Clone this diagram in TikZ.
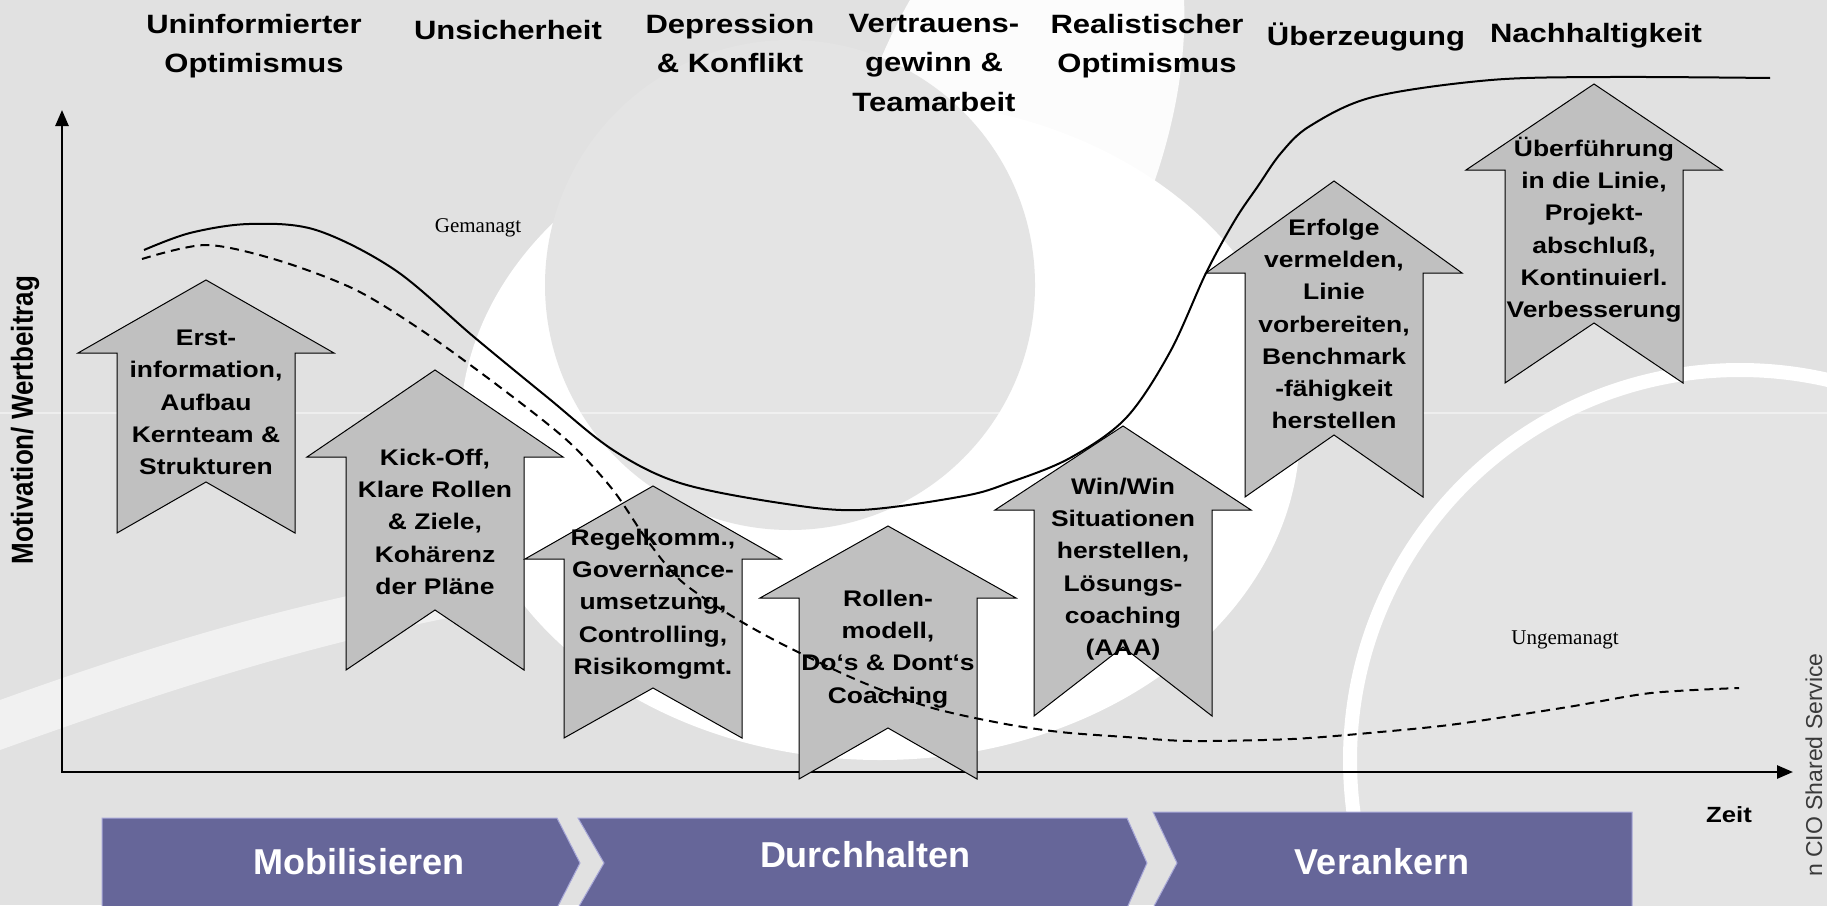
\documentclass[tikz,border=0pt]{standalone}
\usepackage{fontspec}
\setmainfont{Liberation Sans}
\newfontfamily\chartfont[FakeStretch=1.17]{Liberation Sans}
\newfontfamily\seriffont{Liberation Serif}
\usetikzlibrary{arrows.meta}

\definecolor{bggray}{HTML}{E1E1E1}
\definecolor{diskgray}{HTML}{E4E4E4}
\definecolor{arrowgray}{HTML}{C0C0C0}
\definecolor{phase}{HTML}{666699}
\definecolor{phaseedge}{HTML}{A8A8D8}
\definecolor{credit}{HTML}{3A3A3A}

\tikzset{
  arrowbox/.style={fill=arrowgray, draw=black, line width=1pt, line join=miter},
  arrowtext/.style={align=center, inner sep=0pt, anchor=north,
    font=\chartfont\bfseries\fontsize{22.6}{32.2}\selectfont,
    execute at begin node=\rule{0pt}{21pt}},
  toplabel/.style={align=center, inner sep=0pt, anchor=north,
    font=\chartfont\bfseries\fontsize{26.5}{39.5}\selectfont,
    execute at begin node=\rule{0pt}{25pt}},
  curvelabel/.style={inner sep=0pt, font=\seriffont\fontsize{21}{24}\selectfont},
  phasebox/.style={fill=phase, draw=phaseedge, line width=1pt},
  phaselabel/.style={inner sep=0pt, anchor=base, text=white,
    font=\bfseries\fontsize{36}{40}\selectfont},
  axis/.style={line width=2.6pt, {Triangle[length=16pt,width=13pt]}-{Triangle[length=16pt,width=13pt]}},
  managed/.style={line width=2pt},
  unmanaged/.style={line width=2pt, dash pattern=on 9pt off 6pt},
}

% block arrow: name, centre x, tip y, shoulder y, bottom y, notch depth, text top y, text
\newcommand{\blockarrow}[8]{%
  \draw[arrowbox] (#2,#3) -- (#2+128,#4) -- (#2+89,#4) -- (#2+89,#5)
    -- (#2,#5-#6) -- (#2-89,#5) -- (#2-89,#4) -- (#2-128,#4) -- cycle;
  \node[arrowtext] (#1) at (#2,#7) {#8};
}

\begin{document}
\begin{tikzpicture}[x=1pt, y=-1pt]
\useasboundingbox (0,0) rectangle (1827,905);

% background swirl
\fill[bggray] (0,0) rectangle (1827,905);
\fill[white, opacity=0.55] (0,700) .. controls (250,610) and (450,560) .. (760,540)
  -- (760,575) .. controls (450,600) and (250,660) .. (0,750) -- cycle;
\fill[white] (880,430) ellipse [x radius=420, y radius=330];
\fill[white, opacity=0.9, rotate around={-20:(1010,140)}] (1010,140) ellipse [x radius=150, y radius=300];
\fill[diskgray] (790,285) circle [radius=245];
\draw[white, line width=14pt, fill=diskgray] (1740,760) circle [radius=390];
\draw[white, opacity=0.45, line width=1.5pt] (0,413) -- (1827,413);

% axes
\coordinate (ytip) at (62,110);
\coordinate (origin) at (62,772);
\coordinate (xtip) at (1793,772);
\draw[axis] (ytip) -- (origin) -- (xtip);

% measures
\blockarrow{a1}{206}{280}{353}{533}{51}{330}{Erst-\\information,\\Aufbau\\Kernteam \&\\Strukturen}
\blockarrow{a2}{435}{370}{457}{670}{60}{449}{Kick-Off,\\Klare Rollen\\\& Ziele,\\Kohärenz\\der Pläne}
\blockarrow{a3}{653}{486}{559}{738}{50}{529}{Regelkomm.,\\Governance-\\umsetzung,\\Controlling,\\Risikomgmt.}
\blockarrow{a4}{888}{526}{598}{779}{51}{590}{Rollen-\\modell,\\Do‘s \& Dont‘s\\Coaching}
\blockarrow{a5}{1123}{426}{510}{716}{69}{478}{Win/Win\\Situationen\\herstellen,\\Lösungs-\\coaching\\(AAA)}
\blockarrow{a6}{1334}{181}{273}{497}{62}{219}{Erfolge\\vermelden,\\Linie\\vorbereiten,\\Benchmark\\-fähigkeit\\herstellen}
\blockarrow{a7}{1594}{84}{170}{383}{60}{137}{Überführung\\in die Linie,\\Projekt-\\abschluß,\\Kontinuierl.\\Verbesserung}

% managed and unmanaged course
\draw[managed] plot[smooth, tension=0.55] coordinates {
  (144,250) (190,233) (249,224) (316,230) (395,270) (474,337) (547,397)
  (613,450) (680,483) (780,503) (860,510) (964,496) (1011,482) (1070,458)
  (1126,418) (1170,352) (1206,273) (1235,220) (1258,186) (1281,153)
  (1310,126) (1373,97) (1491,80) (1610,77) (1770,78)};
\draw[unmanaged] plot[smooth, tension=0.5] coordinates {
  (142,259) (206,245) (277,260) (356,290) (430,336) (513,397) (570,443)
  (613,490) (647,540) (680,580) (727,613) (780,643) (857,680) (929,707)
  (1000,723) (1060,732) (1126,737) (1190,741) (1292,739) (1380,732)
  (1457,724) (1568,707) (1651,693) (1739,688)};
\node[curvelabel] (managedlabel) at (478,228) {Gemanagt};
\node[curvelabel] (unmanagedlabel) at (1565,640) {Ungemanagt};

% phase headings
\node[toplabel] (h1) at (254,14) {Uninformierter\\Optimismus};
\node[toplabel] (h2) at (508,14) {Unsicherheit};
\node[toplabel] (h3) at (730,14) {Depression\\\& Konflikt};
\node[toplabel] (h4) at (934,14) {Vertrauens-\\gewinn \&\\Teamarbeit};
\node[toplabel] (h5) at (1147,14) {Realistischer\\Optimismus};
\node[toplabel] (h6) at (1366,20) {Überzeugung};
\node[toplabel] (h7) at (1596,17) {Nachhaltigkeit};

% axis titles
\node[inner sep=0pt, rotate=90, font=\bfseries\fontsize{26}{29}\selectfont] (ylabel) at (25,420)
  {\scalebox{1}[1.17]{Motivation/ Wertbeitrag}};
\node[inner sep=0pt, font=\chartfont\bfseries\fontsize{22}{26}\selectfont] (xlabel) at (1729,815) {Zeit};

% phases
\draw[phasebox] (102,818) -- (557,818) -- (580,863) -- (557,908) -- (102,908) -- cycle;
\draw[phasebox] (578,818) -- (1127,818) -- (1147,863) -- (1127,908) -- (578,908) -- (604,863) -- cycle;
\draw[phasebox] (1153,812) -- (1632,812) -- (1632,908) -- (1153,908) -- (1177,863) -- cycle;
\node[phaselabel] (p1) at (359,874) {Mobilisieren};
\node[phaselabel] (p2) at (865,867) {Durchhalten};
\node[phaselabel] (p3) at (1382,874) {Verankern};

% credit line
\node[inner sep=0pt, rotate=90, anchor=base east, text=credit, font=\fontsize{23}{26}\selectfont] (credit) at (1822,653)
  {n CIO Shared Service};
\end{tikzpicture}
\end{document}
